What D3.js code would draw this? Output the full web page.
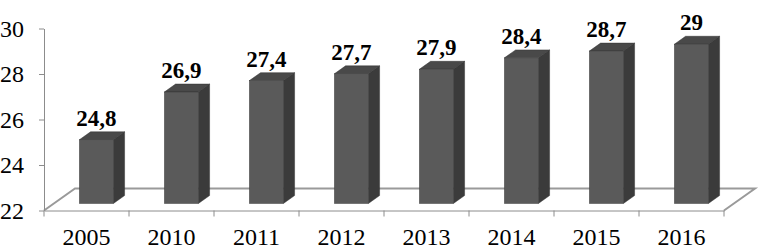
<!DOCTYPE html>
<html>
<head>
<meta charset="utf-8">
<script src="https://cdn.jsdelivr.net/npm/d3@7"></script>
<style>
  svg text { font-family: "Liberation Serif", serif !important; }
</style>
</head>
<body style="margin:0">
<div id="chart"></div>
<script>
// chart data
var years = ["2005", "2010", "2011", "2012", "2013", "2014", "2015", "2016"];
var values = [24.8, 26.9, 27.4, 27.7, 27.9, 28.4, 28.7, 29];
var yTicks = [22, 24, 26, 28, 30];

var width = 761, height = 248;

// floor depth vector (front edge -> back edge) and bar depth range on it
var depth = { dx: 31, dy: -22 };
var barFront = 0.32, barBack = 0.68;
var barWidth = 34;

var svg = d3.select("#chart").append("svg")
    .attr("width", width)
    .attr("height", height)
    .style("display", "block");

// scales
var x = d3.scaleBand().domain(years).range([44, 724]).padding(0);
var y = d3.scaleLinear().domain([22, 30]).range([210.5, 28.5]);

var axisColor = "#8c8c8c";

// floor
var fy = y(22);
var x0 = x.range()[0], x1 = x.range()[1];
svg.append("path")
    .attr("d", "M" + x0 + "," + fy + "L" + (x0 + depth.dx) + "," + (fy + depth.dy) +
               "L" + (x1 + depth.dx) + "," + (fy + depth.dy) + "L" + x1 + "," + fy)
    .attr("fill", "none")
    .attr("stroke", "#9a9a9a")
    .attr("stroke-width", 2);

// y axis
var yAxis = svg.append("g")
    .attr("transform", "translate(" + x0 + ",0)")
    .call(d3.axisLeft(y).tickValues(yTicks).tickSize(5).tickSizeOuter(0).tickPadding(15).tickFormat(d3.format("d")));
yAxis.selectAll("line, path").attr("stroke", axisColor);
yAxis.selectAll("text")
    .style("font-size", "24px")
    .attr("fill", "#000");

// x axis: labels centred on bands, ticks on band edges
var xAxis = svg.append("g")
    .attr("transform", "translate(0," + fy + ")")
    .call(d3.axisBottom(x).tickSize(0).tickPadding(17));
xAxis.select(".domain").attr("stroke", axisColor);
xAxis.selectAll("text")
    .style("font-size", "24px")
    .attr("fill", "#000");

var edges = years.map(function (d) { return x(d); }).concat([x1]);
xAxis.selectAll(".edge")
    .data(edges)
    .enter().append("line")
    .attr("x1", function (d) { return d; })
    .attr("x2", function (d) { return d; })
    .attr("y1", 0)
    .attr("y2", 6)
    .attr("stroke", axisColor);

// 3d bars
var fdx = depth.dx * barFront, fdy = depth.dy * barFront;
var bdx = depth.dx * (barBack - barFront), bdy = depth.dy * (barBack - barFront);

function frontLeft(d) { return x(d) + (x.bandwidth() - barWidth) / 2 + fdx; }
function frontTop(v) { return y(v) + fdy; }
var base = y(22) + fdy;

var bars = svg.selectAll(".bar")
    .data(years)
    .enter().append("g")
    .attr("class", "bar");

// side face
bars.append("path")
    .attr("d", function (d, i) {
        var l = frontLeft(d) + barWidth, t = frontTop(values[i]);
        return "M" + l + "," + base + "L" + l + "," + t + "L" + (l + bdx) + "," + (t + bdy) +
               "L" + (l + bdx) + "," + (base + bdy) + "Z";
    })
    .attr("fill", "#3b3b3b")
    .attr("stroke", "#333")
    .attr("stroke-width", 0.5);

// top face
bars.append("path")
    .attr("d", function (d, i) {
        var l = frontLeft(d), t = frontTop(values[i]);
        return "M" + l + "," + t + "L" + (l + bdx) + "," + (t + bdy) + "L" + (l + barWidth + bdx) + "," + (t + bdy) +
               "L" + (l + barWidth) + "," + t + "Z";
    })
    .attr("fill", "#494949")
    .attr("stroke", "#333")
    .attr("stroke-width", 0.5);

// front face
bars.append("rect")
    .attr("x", function (d) { return frontLeft(d); })
    .attr("y", function (d, i) { return frontTop(values[i]); })
    .attr("width", barWidth)
    .attr("height", function (d, i) { return base - frontTop(values[i]); })
    .attr("fill", "#5a5a5a")
    .attr("stroke", "#3a3a3a")
    .attr("stroke-width", 0.5);

// value labels
svg.selectAll(".lbl")
    .data(years)
    .enter().append("text")
    .attr("class", "lbl")
    .attr("x", function (d) { return frontLeft(d) + barWidth / 2; })
    .attr("y", function (d, i) { return frontTop(values[i]) - 14; })
    .attr("text-anchor", "middle")
    .style("font-size", "23px")
    .style("font-weight", "bold")
    .text(function (d, i) { return String(values[i]).replace(".", ","); });
</script>
</body>
</html>
